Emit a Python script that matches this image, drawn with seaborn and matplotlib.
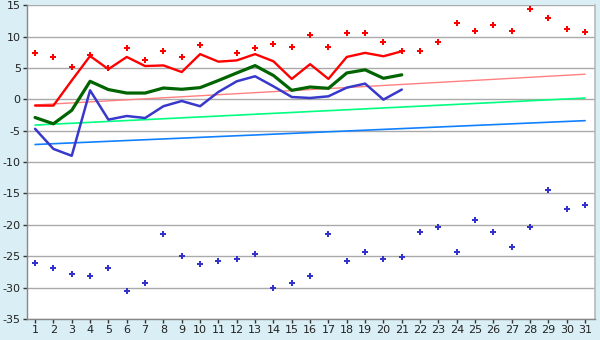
import numpy as np
import pandas as pd
import matplotlib
matplotlib.use("Agg")
import matplotlib.pyplot as plt
import seaborn as sns

days = list(range(1, 32))
days_obs = list(range(1, 22))

mean_temp = [-1.0, -1.0, 3.0, 6.9, 4.8, 6.75, 5.3, 5.4, 4.35, 7.2, 6.0, 6.2, 7.2, 6.06,
             3.25, 5.6, 3.25, 6.75, 7.4, 6.86, 7.65]
mid_temp = [-2.9, -3.9, -1.75, 2.87, 1.55, 1.0, 1.0, 1.8, 1.6, 1.86, 3.0, 4.2, 5.37, 3.8,
            1.43, 1.96, 1.75, 4.2, 4.7, 3.35, 3.9]
low_temp = [-4.7, -7.9, -9.0, 1.43, -3.24, -2.66, -2.98, -1.1, -0.27, -1.1, 1.17, 2.87,
            3.67, 2.07, 0.37, 0.21, 0.48, 1.86, 2.5, -0.05, 1.55]
record_max = [7.44, 6.8, 5.2, 7.1, 5.05, 8.24, 6.3, 7.76, 6.8, 8.6, np.nan, 7.44, 8.24,
              8.77, 8.4, 10.3, 8.4, 10.5, 10.6, 9.2, 7.76, 7.76, 9.2, 12.2, 10.96, 11.9,
              10.96, 14.45, 13.0, 11.27, 10.8]
record_min = [-26.0, -26.95, -27.9, -28.2, -26.95, -30.6, -29.2, -21.4, -24.9, -26.3,
              -25.8, -25.4, -24.7, -30.1, -29.2, -28.2, -21.5, -25.7, -24.4, -25.4,
              -25.2, -21.2, -20.4, -24.25, -19.3, -21.2, -23.6, -20.4, -14.4, -17.4, -16.8]
trend_days = [1, 31]
trend_high = [-0.9, 4.0]
trend_mid = [-4.1, 0.2]
trend_low = [-7.2, -3.4]

sns.set_theme(style="white")
plt.rcParams['font.family'] = ['DejaVu Sans']
plt.rcParams['axes.unicode_minus'] = False

fig = plt.figure(figsize=(6, 3.4), dpi=100, facecolor="#d9eef5")
ax = fig.add_axes([0.045, 0.0618, 0.947, 0.923])
ax.set_facecolor("white")

ax.set_ylim(-35, 15)
ax.set_xlim(0.56, 31.55)
ax.set_yticks(range(-35, 16, 5))
ax.set_xticks(days)
ax.yaxis.grid(True, color="#aaaaaa", linewidth=1)
ax.xaxis.grid(False)
ax.set_axisbelow(True)

# trend lines
sns.lineplot(x=trend_days, y=trend_high, ax=ax, color="#ff8080", linewidth=1)
sns.lineplot(x=trend_days, y=trend_mid, ax=ax, color="#00ff80", linewidth=1.2)
sns.lineplot(x=trend_days, y=trend_low, ax=ax, color="#1080ff", linewidth=1.2)

# observed lines
sns.lineplot(x=days_obs, y=low_temp, ax=ax, color="#3838cc", linewidth=1.8)
sns.lineplot(x=days_obs, y=mid_temp, ax=ax, color="#006400", linewidth=2.3)
sns.lineplot(x=days_obs, y=mean_temp, ax=ax, color="#ff0000", linewidth=1.7)

# records
sns.scatterplot(x=days, y=record_max, ax=ax, color="#ff0000", marker="P", s=22,
                linewidth=0)
sns.scatterplot(x=days, y=record_min, ax=ax, color="#3333cc", marker="P", s=22,
                linewidth=0)

for s in ["left", "bottom"]:
    ax.spines[s].set_color("#888888")
    ax.spines[s].set_linewidth(1)
ax.spines["right"].set_color("#bbbbbb")
ax.spines["top"].set_visible(False)

ax.tick_params(axis="both", which="both", direction="out", length=3, width=1,
               color="#333333", labelsize=8, labelcolor="#222222", pad=1.5)
ax.tick_params(axis="x", bottom=True)
ax.tick_params(axis="y", left=True)
ax.set_xlabel("")
ax.set_ylabel("")

fig.savefig("out.png", dpi=100, facecolor=fig.get_facecolor())
